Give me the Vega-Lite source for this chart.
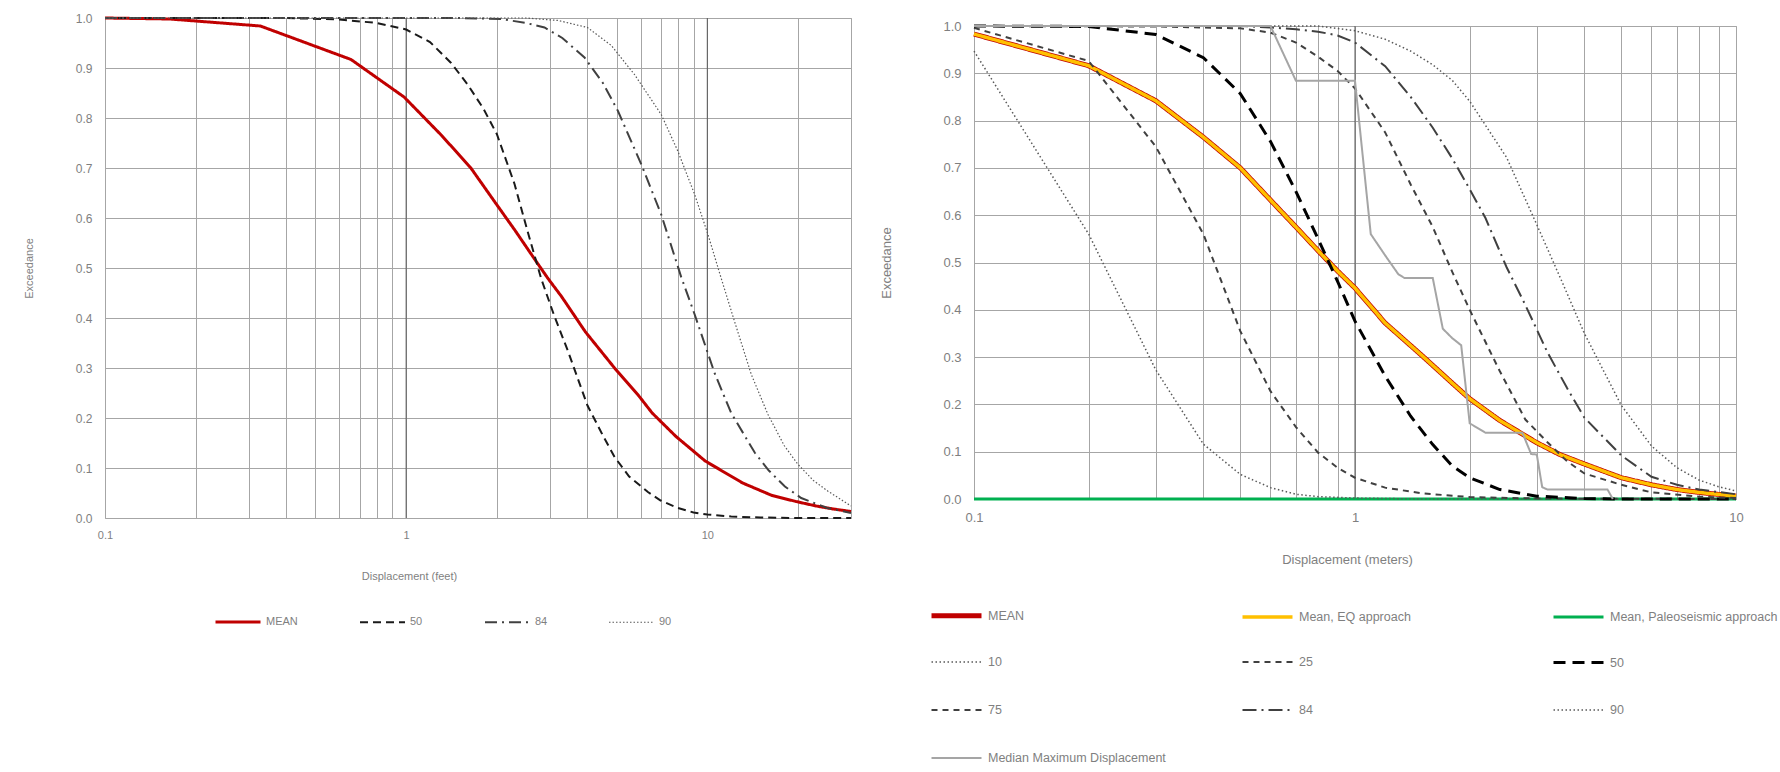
{
  "$schema": "https://vega.github.io/schema/vega-lite/v6.json",
  "background": "white",
  "padding": {"left": 22, "top": 11, "right": 0, "bottom": 0},
  "spacing": 21,
  "resolve": {
    "scale": {"color": "independent", "strokeDash": "independent", "strokeWidth": "independent"},
    "legend": {"color": "independent", "strokeDash": "independent", "strokeWidth": "independent"}
  },
  "config": {
    "font": "Liberation Sans",
    "view": {"stroke": "#a6a6a6", "strokeWidth": 1},
    "axis": {"gridColor": "#a6a6a6", "gridOpacity": 1, "gridWidth": 1, "domain": false, "ticks": false, "tickSize": 0, "labelColor": "#7f7f7f", "titleColor": "#7f7f7f", "titleFontWeight": "normal", "labelOverlap": false, "labelBound": false, "labelFlush": false},
    "legend": {"labelColor": "#7f7f7f", "symbolType": "stroke", "labelLimit": 400}
  },
  "datasets": {
    "decL": [{"x": 1}, {"x": 10}],
    "decR": [{"x": 1}],
    "left": [
      {"s": "MEAN", "x": 0.1, "y": 1}, {"s": "MEAN", "x": 0.164, "y": 0.998}, {"s": "MEAN", "x": 0.328, "y": 0.984}, {"s": "MEAN", "x": 0.656, "y": 0.917}, {"s": "MEAN", "x": 0.984, "y": 0.842}, {"s": "MEAN", "x": 1.312, "y": 0.765}, {"s": "MEAN", "x": 1.64, "y": 0.7}, {"s": "MEAN", "x": 1.97, "y": 0.632}, {"s": "MEAN", "x": 2.3, "y": 0.575}, {"s": "MEAN", "x": 2.62, "y": 0.525}, {"s": "MEAN", "x": 2.95, "y": 0.48}, {"s": "MEAN", "x": 3.28, "y": 0.443}, {"s": "MEAN", "x": 3.94, "y": 0.372}, {"s": "MEAN", "x": 4.92, "y": 0.3}, {"s": "MEAN", "x": 5.91, "y": 0.245}, {"s": "MEAN", "x": 6.56, "y": 0.21}, {"s": "MEAN", "x": 7.87, "y": 0.163}, {"s": "MEAN", "x": 9.84, "y": 0.114}, {"s": "MEAN", "x": 13.1, "y": 0.07}, {"s": "MEAN", "x": 16.4, "y": 0.045}, {"s": "MEAN", "x": 19.7, "y": 0.033}, {"s": "MEAN", "x": 23, "y": 0.024}, {"s": "MEAN", "x": 26.2, "y": 0.018}, {"s": "MEAN", "x": 30, "y": 0.013},
      {"s": "50", "x": 0.1, "y": 1}, {"s": "50", "x": 0.4, "y": 1}, {"s": "50", "x": 0.6, "y": 0.997}, {"s": "50", "x": 0.8, "y": 0.99}, {"s": "50", "x": 1, "y": 0.977}, {"s": "50", "x": 1.2, "y": 0.952}, {"s": "50", "x": 1.41, "y": 0.91}, {"s": "50", "x": 1.6, "y": 0.867}, {"s": "50", "x": 1.8, "y": 0.82}, {"s": "50", "x": 2, "y": 0.768}, {"s": "50", "x": 2.29, "y": 0.668}, {"s": "50", "x": 2.54, "y": 0.57}, {"s": "50", "x": 2.81, "y": 0.478}, {"s": "50", "x": 3.1, "y": 0.405}, {"s": "50", "x": 3.44, "y": 0.335}, {"s": "50", "x": 4, "y": 0.225}, {"s": "50", "x": 4.5, "y": 0.165}, {"s": "50", "x": 4.92, "y": 0.122}, {"s": "50", "x": 5.5, "y": 0.083}, {"s": "50", "x": 6.35, "y": 0.052}, {"s": "50", "x": 7, "y": 0.035}, {"s": "50", "x": 7.98, "y": 0.02}, {"s": "50", "x": 9, "y": 0.011}, {"s": "50", "x": 10, "y": 0.007}, {"s": "50", "x": 12, "y": 0.003}, {"s": "50", "x": 15, "y": 0.001}, {"s": "50", "x": 20, "y": 0}, {"s": "50", "x": 30, "y": 0},
      {"s": "84", "x": 0.1, "y": 1}, {"s": "84", "x": 1.5, "y": 1}, {"s": "84", "x": 2.07, "y": 0.998}, {"s": "84", "x": 2.5, "y": 0.99}, {"s": "84", "x": 2.88, "y": 0.981}, {"s": "84", "x": 3.3, "y": 0.96}, {"s": "84", "x": 3.91, "y": 0.921}, {"s": "84", "x": 4.5, "y": 0.87}, {"s": "84", "x": 5.05, "y": 0.814}, {"s": "84", "x": 6.04, "y": 0.707}, {"s": "84", "x": 7.03, "y": 0.607}, {"s": "84", "x": 8.2, "y": 0.481}, {"s": "84", "x": 9.08, "y": 0.407}, {"s": "84", "x": 10.57, "y": 0.29}, {"s": "84", "x": 12, "y": 0.21}, {"s": "84", "x": 14.4, "y": 0.13}, {"s": "84", "x": 16, "y": 0.095}, {"s": "84", "x": 18.1, "y": 0.063}, {"s": "84", "x": 20.5, "y": 0.04}, {"s": "84", "x": 25, "y": 0.02}, {"s": "84", "x": 30, "y": 0.01},
      {"s": "90", "x": 0.1, "y": 1}, {"s": "90", "x": 2.5, "y": 1}, {"s": "90", "x": 3.2, "y": 0.995}, {"s": "90", "x": 4, "y": 0.981}, {"s": "90", "x": 4.8, "y": 0.945}, {"s": "90", "x": 5.73, "y": 0.887}, {"s": "90", "x": 7.03, "y": 0.807}, {"s": "90", "x": 7.98, "y": 0.734}, {"s": "90", "x": 9.08, "y": 0.647}, {"s": "90", "x": 10.05, "y": 0.567}, {"s": "90", "x": 11.1, "y": 0.481}, {"s": "90", "x": 12.3, "y": 0.394}, {"s": "90", "x": 14, "y": 0.287}, {"s": "90", "x": 15.9, "y": 0.207}, {"s": "90", "x": 18, "y": 0.145}, {"s": "90", "x": 19.95, "y": 0.108}, {"s": "90", "x": 22.5, "y": 0.075}, {"s": "90", "x": 25.1, "y": 0.054}, {"s": "90", "x": 30, "y": 0.024}
    ],
    "right": [
      {"s": "MEAN", "x": 0.1, "y": 0.983}, {"s": "MEAN", "x": 0.2, "y": 0.916}, {"s": "MEAN", "x": 0.3, "y": 0.842}, {"s": "MEAN", "x": 0.4, "y": 0.765}, {"s": "MEAN", "x": 0.5, "y": 0.7}, {"s": "MEAN", "x": 0.6, "y": 0.632}, {"s": "MEAN", "x": 0.7, "y": 0.575}, {"s": "MEAN", "x": 0.8, "y": 0.525}, {"s": "MEAN", "x": 0.9, "y": 0.482}, {"s": "MEAN", "x": 1, "y": 0.446}, {"s": "MEAN", "x": 1.2, "y": 0.372}, {"s": "MEAN", "x": 1.5, "y": 0.303}, {"s": "MEAN", "x": 1.8, "y": 0.245}, {"s": "MEAN", "x": 2, "y": 0.212}, {"s": "MEAN", "x": 2.4, "y": 0.166}, {"s": "MEAN", "x": 3, "y": 0.119}, {"s": "MEAN", "x": 3.45, "y": 0.094}, {"s": "MEAN", "x": 4, "y": 0.074}, {"s": "MEAN", "x": 5, "y": 0.045}, {"s": "MEAN", "x": 6, "y": 0.03}, {"s": "MEAN", "x": 7, "y": 0.02}, {"s": "MEAN", "x": 8, "y": 0.014}, {"s": "MEAN", "x": 10, "y": 0.006},
      {"s": "Mean, EQ approach", "x": 0.1, "y": 0.983}, {"s": "Mean, EQ approach", "x": 0.2, "y": 0.916}, {"s": "Mean, EQ approach", "x": 0.3, "y": 0.842}, {"s": "Mean, EQ approach", "x": 0.4, "y": 0.765}, {"s": "Mean, EQ approach", "x": 0.5, "y": 0.7}, {"s": "Mean, EQ approach", "x": 0.6, "y": 0.632}, {"s": "Mean, EQ approach", "x": 0.7, "y": 0.575}, {"s": "Mean, EQ approach", "x": 0.8, "y": 0.525}, {"s": "Mean, EQ approach", "x": 0.9, "y": 0.482}, {"s": "Mean, EQ approach", "x": 1, "y": 0.446}, {"s": "Mean, EQ approach", "x": 1.2, "y": 0.372}, {"s": "Mean, EQ approach", "x": 1.5, "y": 0.303}, {"s": "Mean, EQ approach", "x": 1.8, "y": 0.245}, {"s": "Mean, EQ approach", "x": 2, "y": 0.212}, {"s": "Mean, EQ approach", "x": 2.4, "y": 0.166}, {"s": "Mean, EQ approach", "x": 3, "y": 0.119}, {"s": "Mean, EQ approach", "x": 3.45, "y": 0.094}, {"s": "Mean, EQ approach", "x": 4, "y": 0.074}, {"s": "Mean, EQ approach", "x": 5, "y": 0.045}, {"s": "Mean, EQ approach", "x": 6, "y": 0.03}, {"s": "Mean, EQ approach", "x": 7, "y": 0.02}, {"s": "Mean, EQ approach", "x": 8, "y": 0.014}, {"s": "Mean, EQ approach", "x": 10, "y": 0.006},
      {"s": "Mean, Paleoseismic approach", "x": 0.1, "y": 0}, {"s": "Mean, Paleoseismic approach", "x": 10, "y": 0},
      {"s": "10", "x": 0.1, "y": 0.947}, {"s": "10", "x": 0.2, "y": 0.56}, {"s": "10", "x": 0.3, "y": 0.273}, {"s": "10", "x": 0.4, "y": 0.116}, {"s": "10", "x": 0.5, "y": 0.052}, {"s": "10", "x": 0.6, "y": 0.024}, {"s": "10", "x": 0.7, "y": 0.01}, {"s": "10", "x": 0.8, "y": 0.005}, {"s": "10", "x": 1, "y": 0.002}, {"s": "10", "x": 1.5, "y": 0}, {"s": "10", "x": 10, "y": 0},
      {"s": "25", "x": 0.1, "y": 0.996}, {"s": "25", "x": 0.2, "y": 0.926}, {"s": "25", "x": 0.3, "y": 0.745}, {"s": "25", "x": 0.4, "y": 0.56}, {"s": "25", "x": 0.5, "y": 0.355}, {"s": "25", "x": 0.6, "y": 0.228}, {"s": "25", "x": 0.7, "y": 0.152}, {"s": "25", "x": 0.8, "y": 0.098}, {"s": "25", "x": 0.9, "y": 0.066}, {"s": "25", "x": 1, "y": 0.045}, {"s": "25", "x": 1.2, "y": 0.024}, {"s": "25", "x": 1.5, "y": 0.012}, {"s": "25", "x": 2, "y": 0.004}, {"s": "25", "x": 3, "y": 0.001}, {"s": "25", "x": 10, "y": 0},
      {"s": "50", "x": 0.1, "y": 1}, {"s": "50", "x": 0.2, "y": 0.999}, {"s": "50", "x": 0.3, "y": 0.982}, {"s": "50", "x": 0.4, "y": 0.933}, {"s": "50", "x": 0.5, "y": 0.857}, {"s": "50", "x": 0.6, "y": 0.756}, {"s": "50", "x": 0.7, "y": 0.65}, {"s": "50", "x": 0.8, "y": 0.55}, {"s": "50", "x": 0.9, "y": 0.46}, {"s": "50", "x": 1, "y": 0.376}, {"s": "50", "x": 1.2, "y": 0.26}, {"s": "50", "x": 1.4, "y": 0.175}, {"s": "50", "x": 1.6, "y": 0.115}, {"s": "50", "x": 1.8, "y": 0.07}, {"s": "50", "x": 2, "y": 0.045}, {"s": "50", "x": 2.4, "y": 0.02}, {"s": "50", "x": 3, "y": 0.006}, {"s": "50", "x": 4, "y": 0.001}, {"s": "50", "x": 5, "y": 0}, {"s": "50", "x": 10, "y": 0},
      {"s": "75", "x": 0.1, "y": 1}, {"s": "75", "x": 0.3, "y": 0.999}, {"s": "75", "x": 0.5, "y": 0.995}, {"s": "75", "x": 0.6, "y": 0.986}, {"s": "75", "x": 0.7, "y": 0.965}, {"s": "75", "x": 0.8, "y": 0.935}, {"s": "75", "x": 0.9, "y": 0.905}, {"s": "75", "x": 1, "y": 0.868}, {"s": "75", "x": 1.2, "y": 0.775}, {"s": "75", "x": 1.4, "y": 0.665}, {"s": "75", "x": 1.6, "y": 0.575}, {"s": "75", "x": 1.8, "y": 0.48}, {"s": "75", "x": 2, "y": 0.4}, {"s": "75", "x": 2.4, "y": 0.27}, {"s": "75", "x": 2.8, "y": 0.168}, {"s": "75", "x": 3.2, "y": 0.12}, {"s": "75", "x": 3.6, "y": 0.08}, {"s": "75", "x": 4, "y": 0.054}, {"s": "75", "x": 5, "y": 0.03}, {"s": "75", "x": 6, "y": 0.014}, {"s": "75", "x": 8, "y": 0.005}, {"s": "75", "x": 10, "y": 0.002},
      {"s": "84", "x": 0.1, "y": 1}, {"s": "84", "x": 0.5, "y": 1}, {"s": "84", "x": 0.6, "y": 0.997}, {"s": "84", "x": 0.7, "y": 0.993}, {"s": "84", "x": 0.8, "y": 0.988}, {"s": "84", "x": 0.9, "y": 0.98}, {"s": "84", "x": 1, "y": 0.965}, {"s": "84", "x": 1.2, "y": 0.915}, {"s": "84", "x": 1.4, "y": 0.85}, {"s": "84", "x": 1.6, "y": 0.785}, {"s": "84", "x": 1.8, "y": 0.72}, {"s": "84", "x": 2, "y": 0.655}, {"s": "84", "x": 2.2, "y": 0.594}, {"s": "84", "x": 2.5, "y": 0.49}, {"s": "84", "x": 2.8, "y": 0.41}, {"s": "84", "x": 3.2, "y": 0.31}, {"s": "84", "x": 3.6, "y": 0.235}, {"s": "84", "x": 4, "y": 0.172}, {"s": "84", "x": 5, "y": 0.092}, {"s": "84", "x": 6, "y": 0.047}, {"s": "84", "x": 7, "y": 0.03}, {"s": "84", "x": 8, "y": 0.02}, {"s": "84", "x": 10, "y": 0.01},
      {"s": "90", "x": 0.1, "y": 1}, {"s": "90", "x": 0.8, "y": 1}, {"s": "90", "x": 1, "y": 0.99}, {"s": "90", "x": 1.2, "y": 0.972}, {"s": "90", "x": 1.4, "y": 0.947}, {"s": "90", "x": 1.6, "y": 0.918}, {"s": "90", "x": 1.8, "y": 0.885}, {"s": "90", "x": 2, "y": 0.841}, {"s": "90", "x": 2.5, "y": 0.722}, {"s": "90", "x": 3, "y": 0.58}, {"s": "90", "x": 3.5, "y": 0.458}, {"s": "90", "x": 4, "y": 0.35}, {"s": "90", "x": 5, "y": 0.198}, {"s": "90", "x": 6, "y": 0.112}, {"s": "90", "x": 7, "y": 0.066}, {"s": "90", "x": 8, "y": 0.04}, {"s": "90", "x": 9, "y": 0.026}, {"s": "90", "x": 10, "y": 0.017},
      {"s": "Median Maximum Displacement", "x": 0.1, "y": 1}, {"s": "Median Maximum Displacement", "x": 0.6, "y": 1}, {"s": "Median Maximum Displacement", "x": 0.7, "y": 0.884}, {"s": "Median Maximum Displacement", "x": 1, "y": 0.884}, {"s": "Median Maximum Displacement", "x": 1.1, "y": 0.56}, {"s": "Median Maximum Displacement", "x": 1.2, "y": 0.515}, {"s": "Median Maximum Displacement", "x": 1.3, "y": 0.475}, {"s": "Median Maximum Displacement", "x": 1.35, "y": 0.467}, {"s": "Median Maximum Displacement", "x": 1.6, "y": 0.467}, {"s": "Median Maximum Displacement", "x": 1.7, "y": 0.36}, {"s": "Median Maximum Displacement", "x": 1.8, "y": 0.34}, {"s": "Median Maximum Displacement", "x": 1.9, "y": 0.325}, {"s": "Median Maximum Displacement", "x": 2, "y": 0.16}, {"s": "Median Maximum Displacement", "x": 2.1, "y": 0.15}, {"s": "Median Maximum Displacement", "x": 2.2, "y": 0.14}, {"s": "Median Maximum Displacement", "x": 2.75, "y": 0.14}, {"s": "Median Maximum Displacement", "x": 2.9, "y": 0.095}, {"s": "Median Maximum Displacement", "x": 3, "y": 0.094}, {"s": "Median Maximum Displacement", "x": 3.1, "y": 0.025}, {"s": "Median Maximum Displacement", "x": 3.2, "y": 0.02}, {"s": "Median Maximum Displacement", "x": 4.6, "y": 0.02}, {"s": "Median Maximum Displacement", "x": 4.75, "y": 0}
    ]
  },
  "hconcat": [
    {
      "width": 746,
      "height": 500,
      "layer": [
        {
          "data": {"name": "decL"},
          "mark": {"type": "rule", "color": "#595959", "strokeWidth": 1},
          "encoding": {"x": {"field": "x", "type": "quantitative", "scale": {"type": "log", "domain": [0.1, 30]},
            "axis": {"values": [0.1, 0.2, 0.3, 0.4, 0.5, 0.6, 0.7, 0.8, 0.9, 1, 2, 3, 4, 5, 6, 7, 8, 9, 10, 20, 30], "labelExpr": "datum.value == 0.1 ? '0.1' : datum.value == 1 ? '1' : datum.value == 10 ? '10' : ''", "labelFontSize": 11, "labelPadding": 11, "title": "Displacement (feet)", "titleFontSize": 11, "titleX": 304, "titleY": 58, "titleBaseline": "middle", "titleAlign": "center", "grid": true}}}
        },
        {
          "data": {"name": "left"},
          "mark": {"type": "line"},
          "encoding": {
            "x": {"field": "x", "type": "quantitative", "scale": {"type": "log", "domain": [0.1, 30]},
              "axis": {"values": [0.1, 0.2, 0.3, 0.4, 0.5, 0.6, 0.7, 0.8, 0.9, 1, 2, 3, 4, 5, 6, 7, 8, 9, 10, 20, 30], "labelExpr": "datum.value == 0.1 ? '0.1' : datum.value == 1 ? '1' : datum.value == 10 ? '10' : ''", "labelFontSize": 11, "labelPadding": 11, "title": "Displacement (feet)", "titleFontSize": 11, "titleX": 304, "titleY": 58, "titleBaseline": "middle", "titleAlign": "center", "grid": true}},
            "y": {"field": "y", "type": "quantitative", "scale": {"domain": [0, 1]},
              "axis": {"values": [0, 0.1, 0.2, 0.3, 0.4, 0.5, 0.6, 0.7, 0.8, 0.9, 1], "format": ".1f", "labelFontSize": 12, "labelPadding": 13, "title": "Exceedance", "titleFontSize": 11, "titleX": -76, "titleY": 250, "titleBaseline": "middle", "titleAlign": "center", "grid": true}},
            "color": {"field": "s", "type": "nominal",
              "scale": {"domain": ["MEAN", "50", "84", "90"], "range": ["#c00000", "#1a1a1a", "#404040", "#595959"]},
              "legend": {"title": null, "orient": "none", "legendX": 109, "legendY": 580, "direction": "horizontal", "symbolSize": 2025, "symbolType": "stroke", "labelFontSize": 11, "labelOffset": 4, "columnPadding": 58}},
            "strokeDash": {"field": "s", "type": "nominal", "scale": {"domain": ["MEAN", "50", "84", "90"], "range": [[1, 0], [8, 5], [12, 5, 2, 5], [1.5, 2]]}},
            "strokeWidth": {"field": "s", "type": "nominal", "scale": {"type": "ordinal", "domain": ["MEAN", "50", "84", "90"], "range": [3, 2, 2, 1.2]}}
          }
        }
      ]
    },
    {
      "spacing": 0,
      "vconcat": [
        {
          "width": 10,
          "height": 1,
          "view": {"stroke": null},
          "data": {"values": [{"a": 1}]},
          "mark": {"type": "point", "opacity": 0, "size": 0}
        },
        {
          "width": 762,
          "height": 473,
          "layer": [
            {
              "data": {"name": "decR"},
              "mark": {"type": "rule", "color": "#595959", "strokeWidth": 1},
              "encoding": {"x": {"field": "x", "type": "quantitative", "scale": {"type": "log", "domain": [0.1, 10]},
                "axis": {"values": [0.1, 0.2, 0.3, 0.4, 0.5, 0.6, 0.7, 0.8, 0.9, 1, 2, 3, 4, 5, 6, 7, 8, 9, 10], "labelExpr": "datum.value == 0.1 ? '0.1' : datum.value == 1 ? '1' : datum.value == 10 ? '10' : ''", "labelFontSize": 13, "labelPadding": 12, "title": "Displacement (meters)", "titleFontSize": 13, "titleX": 373, "titleY": 60, "titleBaseline": "middle", "titleAlign": "center", "grid": true}}}
            },
            {
              "data": {"name": "right"},
              "mark": {"type": "line"},
              "encoding": {
                "x": {"field": "x", "type": "quantitative", "scale": {"type": "log", "domain": [0.1, 10]},
                  "axis": {"values": [0.1, 0.2, 0.3, 0.4, 0.5, 0.6, 0.7, 0.8, 0.9, 1, 2, 3, 4, 5, 6, 7, 8, 9, 10], "labelExpr": "datum.value == 0.1 ? '0.1' : datum.value == 1 ? '1' : datum.value == 10 ? '10' : ''", "labelFontSize": 13, "labelPadding": 12, "title": "Displacement (meters)", "titleFontSize": 13, "titleX": 373, "titleY": 60, "titleBaseline": "middle", "titleAlign": "center", "grid": true}},
                "y": {"field": "y", "type": "quantitative", "scale": {"domain": [0, 1]},
                  "axis": {"values": [0, 0.1, 0.2, 0.3, 0.4, 0.5, 0.6, 0.7, 0.8, 0.9, 1], "format": ".1f", "labelFontSize": 13, "labelPadding": 13, "title": "Exceedance", "titleFontSize": 13, "titleX": -88, "titleY": 236.5, "titleBaseline": "middle", "titleAlign": "center", "grid": true}},
                "color": {"field": "s", "type": "nominal",
                  "scale": {"domain": ["MEAN", "Mean, EQ approach", "Mean, Paleoseismic approach", "10", "25", "50", "75", "84", "90", "Median Maximum Displacement"], "range": ["#c00000", "#ffc000", "#00b050", "#595959", "#404040", "#000000", "#404040", "#404040", "#595959", "#a5a5a5"]},
                  "legend": {"title": null, "orient": "none", "legendX": -45, "legendY": 570, "direction": "horizontal", "columns": 3, "gridAlign": "all", "symbolSize": 2500, "symbolType": "stroke", "labelFontSize": 12.5, "labelOffset": 4, "columnPadding": 69, "rowPadding": 10}},
                "strokeDash": {"field": "s", "type": "nominal", "scale": {"domain": ["MEAN", "Mean, EQ approach", "Mean, Paleoseismic approach", "10", "25", "50", "75", "84", "90", "Median Maximum Displacement"], "range": [[1, 0], [1, 0], [1, 0], [1.5, 2.5], [6, 5], [12, 7], [6, 5], [14, 5, 2, 5], [1.5, 2.5], [1, 0]]}},
                "strokeWidth": {"field": "s", "type": "nominal", "scale": {"type": "ordinal", "domain": ["MEAN", "Mean, EQ approach", "Mean, Paleoseismic approach", "10", "25", "50", "75", "84", "90", "Median Maximum Displacement"], "range": [5, 3.5, 3, 1.5, 2, 3, 2, 2, 1.5, 2]}}
              }
            }
          ]
        }
      ]
    }
  ]
}
